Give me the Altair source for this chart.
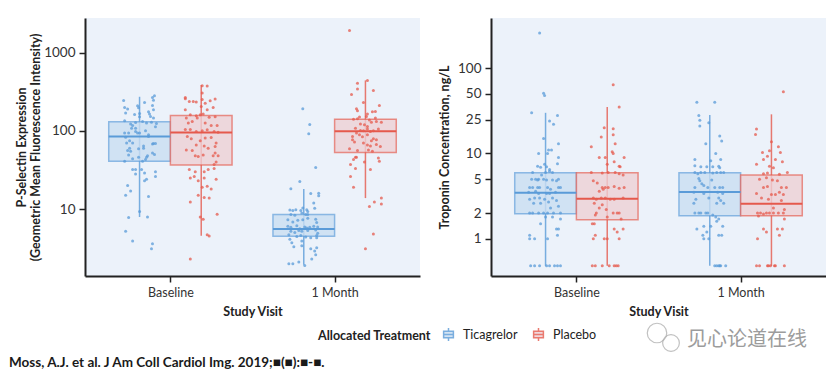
import altair as alt
import pandas as pd

VISITS = ["Baseline", "1 Month"]
TREATS = ["Ticagrelor", "Placebo"]

BLUE = "#5A9BD8"
RED = "#E5594C"
BLUE_L = "#C9DDF1"
RED_L = "#EDCFD4"

# ---------------- P-Selectin (left panel) ----------------
psel_base_tica_val = [245, 247, 267, 281, 190, 199, 209, 197, 231, 211, 186, 175, 164, 162, 167, 151, 153, 146, 169, 135,
                      122, 117, 128, 132, 126, 129, 124, 113,
                      94, 94, 108, 98, 94, 85, 89, 83, 75, 70, 64, 60, 68, 69, 69, 59, 56, 55, 60, 52, 50, 48, 46, 43,
                      41, 41, 44, 49, 46, 108, 94, 100, 70,
                      32, 32, 32, 28, 29, 30, 26, 24, 23, 20, 17, 15, 14.5, 9.3, 7.8, 7.9, 5.2, 3.9, 3.6, 3.1]
psel_base_tica_jit = [-16, 14, 13, 15, -12, -15, -2, -1, 5, 13, 14, 9, 10, -5, 0, 0, 11, 14, -14, -15, -9, -7, -4, 3, 7,
                      12, 17, 16,
                      -15, -11, -8, -4, 0, 9, 9, -14, -10, -7, 4, 4, 13, 14, 16, -1, -12, -9, -10, 13, 15, 8, 7, 6, 3,
                      -15, -7, -11, -1, -4, -2, 6, -13,
                      -7, -4, 2, -4, 5, 16, 16, 7, 5, -12, -9, -14, 9, 0, -11, 8, -14, -7, 13, 12]

psel_base_plac_val = [377, 374, 304, 267, 257, 238, 238, 234, 252, 243, 255, 226, 186, 186, 199, 205, 161, 156, 161, 164,
                      149, 151, 146, 126, 132, 146, 126, 117, 117, 104, 104, 98, 100, 103, 98, 96, 85, 79, 75, 81, 82,
                      70, 66, 64, 63, 60, 57, 56, 48, 47, 49, 48, 48, 52, 37, 40, 32, 30, 30, 32, 33, 25, 26, 23, 25,
                      19, 19.5, 18, 15, 14, 13.8, 24, 12.3, 7.9, 7.4, 8.6, 4.5, 4.7, 2.3]
psel_base_plac_jit = [1, 6, 1, -16, -16, -12, -8, -5, 1, 9, 14, 4, -16, 6, 12, 0, -11, -5, -1, 2,
                      8, 14, -15, -13, -9, -4, 4, 10, 16, -16, -11, -5, 1, 6, 13, 17, -14, -10, -1, 4, 10,
                      15, -5, 3, 14, 7, -15, -9, -6, -3, 2, 12, 17, 14, 13, 15, -12, -6, 3, 7, 13, -11, -7, -3, 3,
                      1, 6, 10, -3, 3, 8, 15, -11, -1, 2, 16, 8, 6, -11]

psel_m1_tica_val = [192, 121, 92, 34, 22.5, 18.2, 15.8, 15.9, 14.8, 11.9, 10.2, 10.3, 9.7, 9.6, 9.8, 9.6, 9.8, 9.3, 8.5,
                    8.5, 8.9, 8.3, 8.5, 7.3, 6.8, 7.2, 7.3, 7.6, 7.4, 6.7, 6.0, 5.85, 6.1, 5.6, 5.9, 5.7, 5.85, 6.0,
                    5.9, 5.2, 5.0, 5.3, 5.2, 5.3, 5.4, 4.9, 4.7, 4.45, 4.6, 4.4, 4.3, 4.3, 4.6, 4.1, 3.7, 3.9, 3.3,
                    3.4, 3.1, 3.2, 2.9, 2.6, 2.3, 2.1, 2.0, 2.0, 1.9]
psel_m1_tica_jit = [-1, 6, 5, 12, -4, -13, 7, 15, 15, 10, 11, -1, -14, -11, -8, -3, 3, 4, 2,
                    4, -2, -9, -13, -16, -11, -6, -1, 4, 12, 13, -16, -13, -7, -4, 1, 3, 6, 10,
                    14, -13, -9, -5, -2, 4, 12, 14, -15, -7, -3, 2, 7, 13, 13, -14, -12, -2, -10,
                    -2, 7, 13, 11, 12, 8, -5, -15, -11, 1]

psel_m1_plac_val = [1923, 442, 408, 342, 329, 292, 231, 211, 192, 181, 175, 177, 164, 153, 146, 141, 143, 150, 138, 129,
                    122, 120, 114, 132, 129, 108, 101, 100, 106, 98, 100, 106, 85, 94, 89, 84, 89, 79, 77, 75, 77,
                    72, 70, 66, 63, 64, 67, 59, 56, 57, 55, 45, 41, 46, 43, 46, 40, 37, 33, 32, 26, 19, 13.8, 11.6,
                    12.3, 10.8, 4.8, 3.1]
psel_m1_plac_jit = [-16, 2, -8, -8, 8, -14, -2, 14, -9, -8, 7, 10, 2, 1, 10, -12, -8, -6, 4, 6,
                    -5, -1, 2, 11, 16, -10, -5, -2, 2, 5, 8, 13, -13, -9, -6, -3, 2, 8, 11, 6, -13,
                    -11, -2, 2, 15, 5, 11, -16, -8, 3, 7, 13, 14, -10, -12, -9, -1, -15, -10, 5, -15, -12, 16, 16,
                    9, 4, 8, 0]

psel_q1 = [41, 36.5, 4.48, 53]
psel_med = [85, 95, 5.55, 99]
psel_q3 = [131, 157, 8.5, 141]
psel_lo = [7.9, 4.55, 1.94, 13.8]
psel_hi = [273, 385, 18, 442]

# ---------------- Troponin (right panel) ----------------
trop_base_tica_val = [260, 51, 48, 30, 28, 24, 22, 15, 13, 11, 11, 10, 10, 9, 7.6, 7.5, 7.1, 6.9, 7.0, 6.5, 6.0, 6.0,
                      6.2, 6.0, 5.6,
                      5.0, 5.0, 4.9, 5.0, 5.0, 4.9, 4.9, 4.8, 5.0,
                      4.0, 4.0, 4.0, 4.0, 4.0, 3.8, 4.0, 4.0,
                      3.5, 3.6, 3.4, 3.4, 3.4, 3.5,
                      2.9, 3.0, 3.0, 2.9, 3.0, 2.8,
                      2.6, 2.6, 2.7, 2.3, 2.4,
                      2.0, 2.0, 2.0, 2.0, 2.0, 2.0, 2.0,
                      1.8, 1.8, 1.7, 1.5, 1.3, 1.3,
                      1.1, 1.0, 1.0, 1.1, 1.0,
                      0.48, 0.48, 0.48, 0.48, 0.48, 0.48, 0.48, 0.48]
trop_base_tica_jit = [-6, -2, -1, -14, 12, 4, 8, -2, 13, 6, 3, 2, -7, 13, 12, -1, -8, -5, 1, 4, -13, 0,
                      4, 7, -4,
                      -14, -10, -8, -7, -2, 1, 7, 11, 13,
                      -16, -13, -8, -6, 2, 5, 13, 15,
                      -17, -10, -7, 1, 4, 10,
                      -16, -11, -6, -1, 7, 11,
                      -12, -5, 3, 5, 13,
                      -16, -13, -7, -2, 2, 8, 15,
                      0, 7, 15, -5, 13, 11,
                      -16, -11, 2, 12, -16,
                      -15, -11, -6, 1, 4, 9, 12, 15]

trop_base_plac_val = [64, 35, 20, 19.5, 15.6, 16.6, 13, 12, 9, 9, 10.5, 10, 9, 7.5, 7.1, 7.0, 8.0,
                      6.0, 5.9, 6.0, 5.8, 5.6, 6.0,
                      4.8, 4.5, 4.0, 4.0, 4.0, 4.1, 3.9, 4.0, 3.6, 3.8,
                      3.0, 2.9, 3.0, 3.0, 2.9, 2.9, 3.0,
                      2.6, 2.3, 2.5, 2.2, 2.0, 2.0, 2.0, 2.0, 1.9, 1.8,
                      1.7, 1.5, 1.5, 1.3, 1.2, 1.3, 1.1, 1.0, 1.0, 1.0, 1.0,
                      0.48, 0.48, 0.48, 0.48, 0.48, 0.48, 0.48]
trop_base_plac_jit = [6, 12, -3, 6, -6, 6, 8, -16, -8, -2, 5, 6, 17, 0, 12, 13, 7,
                      -16, -5, 8, 12, 16, 1,
                      -14, -10, -5, -2, 1, 7, 12, 17, -8, -4,
                      -14, -11, -6, -2, 3, 7, 16,
                      -13, -8, -5, -1, 10, 6, 12, -11, -12, 0,
                      14, -15, -13, 7, 10, 16, -12, -14, -3, 0, 12,
                      -15, -12, -5, 2, 7, 9, 11]

trop_m1_tica_val = [40, 40, 28, 24.5, 21, 23, 16, 14, 13, 10, 8.5, 8.5, 8.2, 7.2, 7.0, 7.0, 7.0, 7.1, 6.8,
                    6.0, 5.8, 6.0, 6.0, 5.9, 6.0, 6.0, 6.0,
                    5.1, 4.4, 4.2, 4.0, 4.0, 4.0, 4.0, 4.0, 4.8, 4.9,
                    3.5, 3.4, 3.5, 3.4,
                    2.9, 3.0, 3.0, 2.8, 2.6, 2.6, 2.6,
                    2.0, 2.0, 2.0, 2.0, 2.0, 1.9, 1.8, 1.7, 1.6, 1.4, 1.3, 1.4, 1.2, 1.1, 1.1, 1.1, 1.0, 1.0, 1.4,
                    0.48, 0.48, 0.48, 0.48, 0.48, 0.48]
trop_m1_tica_jit = [-13, 5, -11, -10, -10, -1, 10, 12, -4, 6, -15, 11, 1, -15, -9, -3, 3, 9, 10,
                    -15, -12, -9, -5, 3, 7, 11, 14,
                    -11, -8, -6, -2, 5, 10, 13, -15, -10, 2,
                    -16, -6, 8, 13,
                    -14, -1, 9, 11, 7, -16, 14,
                    -15, -11, -9, -4, -2, 3, 6, 9, 7, 1, -13, -6, -3, 9, 12, -7, -6, -1, 13,
                    5, 7, 9, 10, 11, 16]

trop_m1_plac_val = [53, 19.4, 16.7, 13.7, 12, 10.3, 10.3, 10.8, 9.3, 8.5, 8.5, 8.0, 7.1, 6.8, 7.5, 5.7, 6.0, 5.8, 5.9,
                    5.0, 5.2, 4.9, 4.8, 4.0, 4.0, 3.4, 4.0, 4.1, 3.3, 3.3, 3.5, 3.3, 3.0, 2.9, 2.8, 2.2, 2.3,
                    2.0, 2.0, 1.95, 2.0, 2.0, 2.0, 2.0, 2.0, 1.85, 1.7, 1.3, 1.2, 1.3, 1.3, 1.1, 1.0,
                    0.48, 0.48, 0.48, 0.48, 0.48, 0.48, 0.48, 0.48]
trop_m1_plac_jit = [12, -15, -16, 0, 7, 9, -9, -2, -4, -8, 4, 11, -2, 2, -15, 8, 16, -8, -4,
                    -12, -5, 1, 6, 10, 15, -15, -8, -4, 0, 4, 8, 12, -10, -3, 10, 13, 2,
                    -14, -11, -8, -5, -2, 2, 7, 12, -13, 13, -8, -5, 6, 11, 8, -14,
                    -15, -12, -4, -3, -1, 3, 4, 13]

trop_q1 = [1.96, 1.67, 1.86, 1.86]
trop_med = [3.47, 2.95, 3.53, 2.58]
trop_q3 = [5.96, 5.96, 5.96, 5.6]
trop_lo = [0.48, 0.48, 0.48, 0.48]
trop_hi = [30, 35, 28.3, 28.8]

GROUPS = [("Baseline", "Ticagrelor"), ("Baseline", "Placebo"), ("1 Month", "Ticagrelor"), ("1 Month", "Placebo")]


def points_frame(series):
    rows = []
    for (visit, treat), (vals, jits) in zip(GROUPS, series):
        for v, j in zip(vals, jits):
            rows.append({"visit": visit, "treat": treat, "value": v, "jit": j})
    return pd.DataFrame(rows)


def box_frame(q1, med, q3, lo, hi):
    rows = []
    for i, (visit, treat) in enumerate(GROUPS):
        rows.append({"visit": visit, "treat": treat, "q1": q1[i], "med": med[i], "q3": q3[i], "lo": lo[i], "hi": hi[i]})
    return pd.DataFrame(rows)


psel_pts = points_frame([(psel_base_tica_val, psel_base_tica_jit), (psel_base_plac_val, psel_base_plac_jit),
                         (psel_m1_tica_val, psel_m1_tica_jit), (psel_m1_plac_val, psel_m1_plac_jit)])
trop_pts = points_frame([(trop_base_tica_val, trop_base_tica_jit), (trop_base_plac_val, trop_base_plac_jit),
                         (trop_m1_tica_val, trop_m1_tica_jit), (trop_m1_plac_val, trop_m1_plac_jit)])
psel_box = box_frame(psel_q1, psel_med, psel_q3, psel_lo, psel_hi)
trop_box = box_frame(trop_q1, trop_med, trop_q3, trop_lo, trop_hi)

HALF = 0.18775          # half box width, in category-step units
JIT_UNIT = HALF / 31.0  # jitter read in 1/31 of half box width
CENTER = ("(datum.visit == 'Baseline' ? 0 : 1) + (datum.treat == 'Ticagrelor' ? -%f : %f)" % (HALF, HALF))

FONT = "Lato"
LEG = alt.Legend(title="Allocated Treatment", orient="none", legendX=233, legendY=309, direction="horizontal",
                 titleOrient="left", titleBaseline="middle", titlePadding=10,
                 symbolType="M-0.75,-0.5H0.75V0.5H-0.75Z M-0.75,0H0.75 M0,-0.5V-1 M0,0.5V1",
                 symbolSize=169, symbolStrokeWidth=1.5, labelOffset=7, columnPadding=12,
                 labelFont=FONT, labelFontSize=12.5, labelColor="#222",
                 titleFont=FONT, titleFontSize=12.5, titleFontWeight="bold", titleColor="#222")

fill_enc = alt.Fill("treat:N", scale=alt.Scale(domain=TREATS, range=[BLUE_L, RED_L]), legend=LEG)
stroke_enc = alt.Stroke("treat:N", scale=alt.Scale(domain=TREATS, range=[BLUE, RED]), legend=LEG)
color_enc = alt.Color("treat:N", scale=alt.Scale(domain=TREATS, range=[BLUE, RED]), legend=None)


def panel(pts, box, ydomain, yvals, ytitle, ytitle_pad, extra_layers):
    xscale = alt.Scale(domain=[-0.52, 1.52], nice=False, zero=False)
    xaxis = alt.Axis(values=[0, 1], labelExpr="datum.value == 0 ? 'Baseline' : '1 Month'", title="Study Visit",
                     grid=False, labelFontSize=12.5, labelPadding=4, titlePadding=7)
    yscale = alt.Scale(type="log", domain=ydomain, nice=False, zero=False)
    yaxis = alt.Axis(values=yvals, format="d", title=ytitle, grid=False, labelPadding=4, titlePadding=ytitle_pad)

    base_box = alt.Chart(box).transform_calculate(
        xc=CENTER, x1="datum.xc - %f" % HALF, x2="datum.xc + %f" % HALF)

    whisker = base_box.mark_rule(strokeWidth=1.5, opacity=0.8).encode(
        x=alt.X("xc:Q", scale=xscale, axis=xaxis),
        y=alt.Y("lo:Q", scale=yscale, axis=yaxis), y2="hi:Q",
        stroke=stroke_enc)
    rect = base_box.mark_rect(fillOpacity=0.8, strokeWidth=1.5, strokeOpacity=0.65).encode(
        x=alt.X("x1:Q", scale=xscale, axis=xaxis), x2="x2:Q",
        y=alt.Y("q1:Q", scale=yscale, axis=yaxis), y2="q3:Q",
        fill=fill_enc, stroke=stroke_enc)
    median = base_box.mark_rule(strokeWidth=2).encode(
        x=alt.X("x1:Q", scale=xscale, axis=xaxis), x2="x2:Q",
        y=alt.Y("med:Q", scale=yscale, axis=yaxis),
        stroke=stroke_enc)
    dots = alt.Chart(pts).transform_calculate(
        xp=CENTER + " + datum.jit * %f" % JIT_UNIT
    ).mark_circle(size=9, opacity=0.75).encode(
        x=alt.X("xp:Q", scale=xscale, axis=xaxis),
        y=alt.Y("value:Q", scale=yscale, axis=yaxis),
        color=color_enc)
    return alt.layer(whisker, rect, median, dots, *extra_layers).properties(width=335, height=258)


citation = alt.Chart(pd.DataFrame({"t": ["Moss, A.J. et al. J Am Coll Cardiol Img. 2019;\u25a0(\u25a0):\u25a0-\u25a0."]})
                     ).mark_text(align="left", baseline="middle", font=FONT, fontSize=13.5, fontWeight="bold",
                                 color="#1a1a1a").encode(x=alt.value(-76), y=alt.value(345), text="t:N")

wm_text = alt.Chart(pd.DataFrame({"t": ["见心论道在线"]})).mark_text(
    align="left", baseline="middle", font="Noto Sans CJK SC", fontSize=20, color="#9c9c9c"
).encode(x=alt.value(196), y=alt.value(322), text="t:N")
wm_icon1 = alt.Chart(pd.DataFrame({"s": [380]})).mark_point(
    shape="circle", filled=False, color="#a8a8a8", strokeWidth=1.2
).encode(x=alt.value(166), y=alt.value(315), size=alt.Size("s:Q", scale=None, legend=None))
wm_icon2 = alt.Chart(pd.DataFrame({"s": [280]})).mark_point(
    shape="circle", filled=False, color="#a8a8a8", strokeWidth=1.2
).encode(x=alt.value(180), y=alt.value(325), size=alt.Size("s:Q", scale=None, legend=None))

left = panel(psel_pts, psel_box, [1.39, 2780], [10, 100, 1000],
             ["P-Selectin Expression", "(Geometric Mean Fluorescence Intensity)"], 1, [citation])
right = panel(trop_pts, trop_box, [0.365, 389], [1, 2, 5, 10, 25, 50, 100],
              "Troponin Concentration, ng/L", 6, [wm_icon1, wm_icon2, wm_text])

chart = alt.hconcat(left, right, spacing=18).properties(
    padding={"left": 9, "top": 18, "right": 0, "bottom": 0}
).configure_view(stroke=None, fill="#ECF2FA").configure_axis(
    labelFont=FONT, titleFont=FONT, labelFontSize=13.5, titleFontSize=12.5, titleFontWeight="bold",
    labelColor="#333", titleColor="#222", domainColor="#222", domainWidth=2, tickColor="#222",
    tickWidth=1.5, tickSize=6, titleLineHeight=14
).configure_legend(symbolStrokeWidth=1.5)

chart.save("out.html", embed_options={"renderer": "svg", "actions": False})
